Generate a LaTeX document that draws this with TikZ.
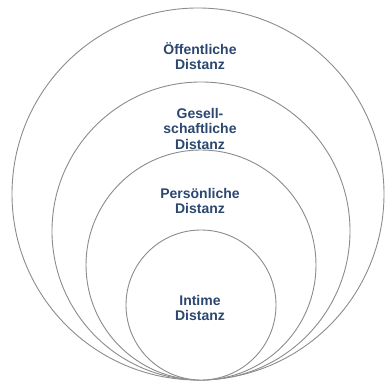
\documentclass[tikz,border=0pt]{standalone}
\usepackage{fontspec}
\setmainfont{Liberation Sans}
\definecolor{txtblue}{HTML}{2C4770}
\definecolor{ringgray}{HTML}{8C8C8C}
\begin{document}
\begin{tikzpicture}[x=1pt,y=1pt,
  ring/.style={circle,draw=ringgray,line width=0.9pt,fill=white,inner sep=0pt},
  lbl/.style={align=center,text=txtblue,font=\fontsize{14}{15.5}\selectfont\bfseries,inner sep=0pt}]
\useasboundingbox (0,0) rectangle (385,382);
\node[ring,minimum size=372pt] (c1) at (198,188) {};
\node[ring,minimum size=298pt] (c2) at (201,151) {};
\node[ring,minimum size=230pt] (c3) at (201,117) {};
\node[ring,minimum size=150pt] (c4) at (201,77) {};
\node[lbl] (t1) at (200,326) {Öffentliche\\Distanz};
\node[lbl] (t2) at (200,253) {Gesell-\\schaftliche\\Distanz};
\node[lbl] (t3) at (200,181) {Persönliche\\Distanz};
\node[lbl] (t4) at (200,74) {Intime\\Distanz};
\end{tikzpicture}
\end{document}
